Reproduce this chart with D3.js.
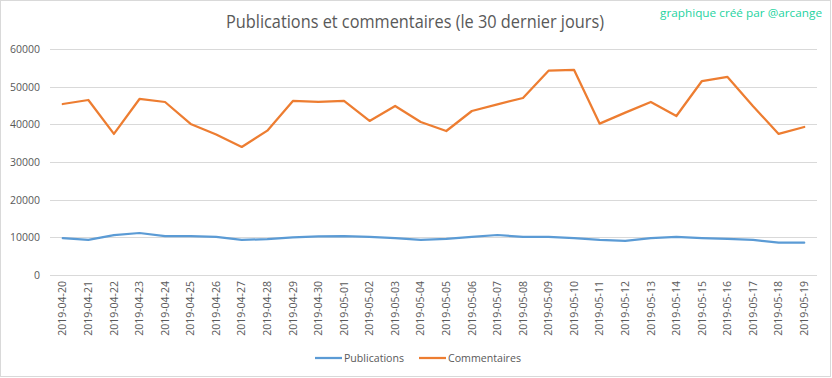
<!DOCTYPE html>
<html><head><meta charset="utf-8">
<script src="https://cdn.jsdelivr.net/npm/d3@7"></script>
<style>html,body{margin:0;padding:0;background:#fff;}svg{display:block;}</style>
</head><body>
<script>
const dates = ["2019-04-20","2019-04-21","2019-04-22","2019-04-23","2019-04-24","2019-04-25","2019-04-26","2019-04-27","2019-04-28","2019-04-29","2019-04-30","2019-05-01","2019-05-02","2019-05-03","2019-05-04","2019-05-05","2019-05-06","2019-05-07","2019-05-08","2019-05-09","2019-05-10","2019-05-11","2019-05-12","2019-05-13","2019-05-14","2019-05-15","2019-05-16","2019-05-17","2019-05-18","2019-05-19"];
const publications = [9800,9300,10600,11150,10350,10350,10100,9300,9550,10000,10270,10350,10100,9820,9300,9560,10100,10620,10100,10100,9820,9300,9050,9820,10100,9820,9560,9300,8580,8580];
const commentaires = [45400,46460,37450,46730,45930,40100,37300,33990,38320,46200,45930,46200,40900,44870,40620,38230,43540,45320,46990,54240,54430,40180,43100,45930,42210,51500,52570,44790,37450,39290];
const yTicks = [0,10000,20000,30000,40000,50000,60000];
const seriesNames = ["Publications","Commentaires"];
const colors = ["#5b9bd5","#ed7d31"];

const W = 832, H = 378;
const svg = d3.select("body").append("svg").attr("width", W).attr("height", H);
svg.append("rect").attr("x",0.5).attr("y",0.5).attr("width",830).attr("height",376)
  .attr("fill","#fff").attr("stroke","#d9d9d9");

const x = d3.scaleBand().domain(dates).range([50, 817]);
const y = d3.scaleLinear().domain([0, 60000]).range([275, 49]);
const font = "'Open Sans', sans-serif";

// gridlines
svg.append("g").selectAll("line").data(yTicks).join("line")
  .attr("x1", 50).attr("x2", 817)
  .attr("y1", d => Math.round(y(d)) + 0.5).attr("y2", d => Math.round(y(d)) + 0.5)
  .attr("stroke", "#d9d9d9").attr("stroke-width", 1);

// y axis labels
const yAxis = svg.append("g").attr("transform", "translate(40,0)")
  .call(d3.axisLeft(y).tickValues(yTicks).tickSize(0).tickPadding(0).tickFormat(d3.format("d")));
yAxis.select(".domain").remove();
yAxis.selectAll("text").attr("font-family", font).attr("font-size", "10.5px").attr("fill", "#595959");

// x axis labels
const xAxis = svg.append("g").attr("transform", "translate(0,281)")
  .call(d3.axisBottom(x).tickSize(0).tickPadding(0));
xAxis.select(".domain").remove();
xAxis.selectAll("text")
  .attr("font-family", font).attr("font-size", "10.5px").attr("fill", "#595959")
  .attr("transform", "rotate(-90)").attr("text-anchor", "end")
  .attr("x", 0).attr("y", 0).attr("dx", 0).attr("dy", "0.35em");

// lines
const cx = d => x(d) + x.bandwidth() / 2;
[publications, commentaires].forEach((vals, i) => {
  const line = d3.line().x((d, j) => cx(dates[j])).y(d => y(d));
  svg.append("path").datum(vals).attr("d", line)
    .attr("fill", "none").attr("stroke", colors[i]).attr("stroke-width", 2.25)
    .attr("stroke-linejoin", "round").attr("stroke-linecap", "round");
});

// title
svg.append("text").attr("x", 415).attr("y", 28).attr("text-anchor", "middle")
  .attr("font-family", "'Open Sans', sans-serif").attr("font-size", "18px").attr("fill", "#595959")
  .attr("textLength", 378).attr("lengthAdjust", "spacingAndGlyphs")
  .text("Publications et commentaires (le 30 dernier jours)");

// watermark
svg.append("text").attr("x", 822).attr("y", 17).attr("text-anchor", "end")
  .attr("font-family", font).attr("font-size", "11px").attr("fill", "#1ed39f")
  .attr("textLength", 162).attr("lengthAdjust", "spacingAndGlyphs")
  .text("graphique créé par @arcange");

// legend
const legendItems = [{x1: 315, x2: 342, tx: 344, w: 60}, {x1: 419, x2: 446, tx: 448, w: 73}];
legendItems.forEach((it, i) => {
  svg.append("line").attr("x1", it.x1).attr("x2", it.x2).attr("y1", 358).attr("y2", 358)
    .attr("stroke", colors[i]).attr("stroke-width", 2.25);
  svg.append("text").attr("x", it.tx).attr("y", 358).attr("dy", "0.35em")
    .attr("font-family", font).attr("font-size", "10.5px").attr("fill", "#595959")
    .attr("textLength", it.w).attr("lengthAdjust", "spacingAndGlyphs")
    .text(seriesNames[i]);
});
</script>
</body></html>
